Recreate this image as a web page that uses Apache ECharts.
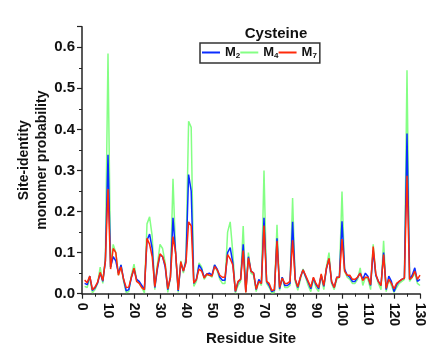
<!DOCTYPE html>
<html>
<head>
<meta charset="utf-8">
<script src="https://cdn.jsdelivr.net/npm/echarts@6/dist/echarts.min.js"></script>
<style>
html,body{margin:0;padding:0;background:#fff;}
#c{width:428px;height:347px;}
</style>
</head>
<body>
<div id="c"></div>
<script>
// Residue sites start at 1
var firstSite = 1;
var seriesNames = ['M2', 'M4', 'M7'];
var xTicks = [0, 10, 20, 30, 40, 50, 60, 70, 80, 90, 100, 110, 120, 130];
var yTicks = [0.0, 0.1, 0.2, 0.3, 0.4, 0.5, 0.6];

var m2 = [0.025,0.022,0.043,0.008,0.014,0.026,0.050,0.030,0.080,0.338,
0.065,0.090,0.080,0.050,0.070,0.035,0.007,0.010,0.040,0.060,
0.035,0.030,0.020,0.010,0.130,0.145,0.110,0.015,0.060,0.095,
0.090,0.065,0.010,0.040,0.185,0.100,0.007,0.075,0.055,0.080,
0.290,0.250,0.025,0.035,0.070,0.060,0.040,0.048,0.050,0.045,
0.070,0.060,0.040,0.033,0.033,0.100,0.112,0.075,0.005,0.028,
0.035,0.120,0.005,0.090,0.055,0.050,0.010,0.035,0.025,0.185,
0.030,0.020,0.005,0.008,0.135,0.012,0.040,0.020,0.020,0.025,
0.175,0.035,0.015,0.040,0.058,0.042,0.028,0.012,0.038,0.022,
0.012,0.045,0.018,0.060,0.085,0.028,0.015,0.040,0.040,0.176,
0.060,0.045,0.040,0.030,0.030,0.040,0.050,0.035,0.050,0.042,
0.020,0.105,0.045,0.030,0.020,0.100,0.010,0.043,0.030,0.005,
0.022,0.030,0.035,0.038,0.390,0.035,0.045,0.063,0.030,0.035];

var m4 = [0.018,0.015,0.040,0.002,0.010,0.025,0.065,0.025,0.090,0.585,
0.065,0.120,0.100,0.045,0.070,0.030,0.003,0.005,0.045,0.072,
0.035,0.025,0.015,0.002,0.170,0.187,0.140,0.010,0.070,0.120,
0.110,0.075,0.003,0.040,0.280,0.100,0.003,0.080,0.050,0.090,
0.420,0.405,0.018,0.030,0.075,0.065,0.035,0.045,0.045,0.040,
0.070,0.055,0.035,0.025,0.025,0.150,0.175,0.100,0.002,0.020,
0.030,0.165,0.003,0.100,0.050,0.045,0.005,0.030,0.020,0.300,
0.025,0.015,0.002,0.003,0.168,0.008,0.040,0.015,0.015,0.020,
0.233,0.030,0.008,0.035,0.060,0.040,0.020,0.005,0.035,0.015,
0.005,0.045,0.010,0.065,0.100,0.025,0.010,0.035,0.040,0.249,
0.055,0.040,0.035,0.025,0.025,0.035,0.063,0.020,0.040,0.035,
0.010,0.120,0.045,0.025,0.010,0.129,0.005,0.035,0.020,0.003,
0.015,0.025,0.030,0.035,0.544,0.030,0.040,0.050,0.025,0.020];

var m7 = [0.033,0.027,0.043,0.010,0.016,0.028,0.052,0.032,0.080,0.255,
0.060,0.110,0.100,0.045,0.065,0.035,0.015,0.016,0.040,0.062,
0.030,0.025,0.015,0.010,0.135,0.120,0.090,0.017,0.065,0.097,
0.090,0.070,0.012,0.040,0.139,0.100,0.009,0.078,0.055,0.075,
0.175,0.165,0.026,0.035,0.060,0.055,0.038,0.048,0.045,0.043,
0.066,0.058,0.045,0.040,0.040,0.095,0.085,0.070,0.006,0.030,
0.035,0.105,0.003,0.087,0.055,0.050,0.011,0.030,0.025,0.166,
0.030,0.025,0.008,0.010,0.128,0.015,0.038,0.025,0.025,0.030,
0.130,0.035,0.017,0.040,0.058,0.045,0.030,0.016,0.040,0.025,
0.015,0.048,0.020,0.062,0.086,0.030,0.015,0.040,0.040,0.133,
0.055,0.045,0.045,0.035,0.035,0.040,0.050,0.032,0.040,0.040,
0.022,0.115,0.048,0.030,0.020,0.095,0.013,0.035,0.025,0.012,
0.025,0.030,0.035,0.038,0.287,0.035,0.040,0.055,0.035,0.045];

function pairs(arr){ return arr.map(function(v,i){ return [firstSite + i, v]; }); }

var colors = {M2:'#0a2cff', M4:'#84ff84', M7:'#ff2a0a'};
var chart = echarts.init(document.getElementById('c'), null, {renderer:'canvas'});
var axisColor = '#222';
var font = 'Liberation Sans, Arial, sans-serif';
var option = {
  animation:false,
  backgroundColor:'#fff',
  title:{
    text:'Cysteine', left:271, top:21, textAlign:'center',
    textStyle:{fontFamily:font, fontWeight:'bold', fontSize:15, color:'#111'}
  },
  legend:{
    data:seriesNames,
    left:200, top:43,
    orient:'horizontal',
    icon:'rect', itemWidth:18, itemHeight:2, itemGap:0,
    borderColor:'#333', borderWidth:1.5, borderRadius:0,
    padding:[3,3,3,2],
    formatter:function(n){ return '{m|M}{s|' + n.slice(1) + '}'; },
    textStyle:{
      padding:0,
      rich:{
        m:{fontFamily:font, fontWeight:'bold', fontSize:13, color:'#111'},
        s:{fontFamily:font, fontWeight:'bold', fontSize:8, color:'#111', padding:[7,0,0,0]}
      }
    }
  },
  grid:{left:82, right:8, top:26.7, bottom:53.3, outerBoundsMode:'none', containLabel:false},
  xAxis:{
    type:'value', min:xTicks[0], max:xTicks[xTicks.length-1], interval:10,
    offset:4,
    name:'Residue Site', nameLocation:'middle', nameGap:34, nameMoveOverlap:false,
    nameTextStyle:{fontFamily:font, fontWeight:'bold', fontSize:15, color:'#111'},
    axisLine:{show:true, lineStyle:{color:axisColor, width:1.5}},
    axisTick:{show:true, inside:false, length:5, lineStyle:{color:axisColor, width:1.2}},
    minorTick:{show:true, splitNumber:2, length:3, lineStyle:{color:axisColor, width:1}},
    splitLine:{show:false},
    axisLabel:{rotate:-90, margin:5, fontFamily:font, fontWeight:'bold', fontSize:14, color:'#111'}
  },
  yAxis:{
    type:'value', min:yTicks[0], max:0.65, interval:0.1,
    name:'Site-identity\nmonomer probability', nameLocation:'middle', nameGap:31, nameMoveOverlap:false,
    nameTextStyle:{fontFamily:font, fontWeight:'bold', fontSize:14, lineHeight:18, color:'#111'},
    axisLine:{show:true, lineStyle:{color:axisColor, width:1.5}},
    axisTick:{show:true, inside:false, length:5, lineStyle:{color:axisColor, width:1.2}},
    minorTick:{show:true, splitNumber:2, length:3, lineStyle:{color:axisColor, width:1}},
    splitLine:{show:false},
    axisLabel:{margin:7, showMaxLabel:false, fontFamily:font, fontWeight:'bold', fontSize:15, color:'#111',
      formatter:function(v){ return Math.abs(v*10 - Math.round(v*10))<1e-6 ? v.toFixed(1) : ''; }}
  },
  series:[
    {name:'M4', type:'line', data:pairs(m4), showSymbol:false, symbol:'none', lineStyle:{color:colors.M4, width:1.5}, itemStyle:{color:colors.M4}, z:1},
    {name:'M2', type:'line', data:pairs(m2), showSymbol:false, symbol:'none', lineStyle:{color:colors.M2, width:1.5}, itemStyle:{color:colors.M2}, z:2},
    {name:'M7', type:'line', data:pairs(m7), showSymbol:false, symbol:'none', lineStyle:{color:colors.M7, width:1.5}, itemStyle:{color:colors.M7}, z:3}
  ]
};
chart.setOption(option);
</script>
</body>
</html>
